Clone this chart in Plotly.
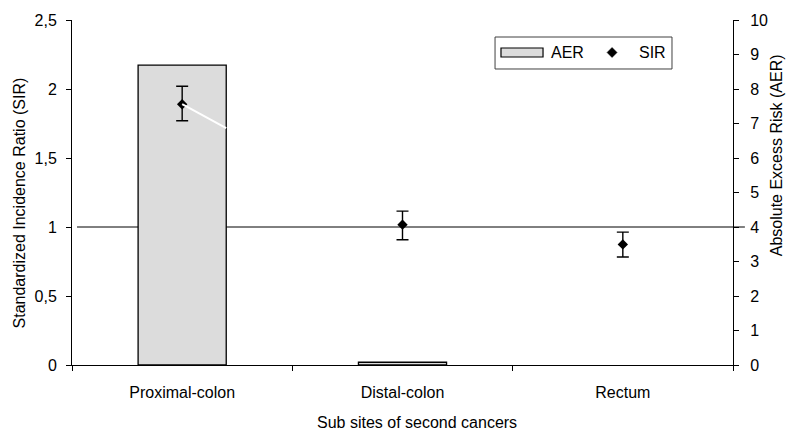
import plotly.graph_objects as go

# Sub sites and their risk estimates
sites = ["Proximal-colon", "Distal-colon", "Rectum"]
aer = [8.69, 0.08, None]           # absolute excess risk (right axis); none shown for rectum
sir = [1.89, 1.017, 0.874]         # standardized incidence ratio (left axis)
sir_upper = [2.02, 1.115, 0.963]   # 95% CI upper bound
sir_lower = [1.77, 0.908, 0.783]   # 95% CI lower bound

sir_ticks = [0, 0.5, 1, 1.5, 2, 2.5]
sir_ticktext = ["0", "0,5", "1", "1,5", "2", "2,5"]
aer_ticks = list(range(0, 11))

FONT = "Liberation Sans, Arial, sans-serif"
FS = 16

err_plus = [u - s for u, s in zip(sir_upper, sir)]
err_minus = [s - l for s, l in zip(sir, sir_lower)]

fig = go.Figure()

# AER bars on the right-hand axis (drawn first, underneath the SIR points)
fig.add_trace(go.Bar(
    x=sites, y=aer, yaxis="y", name="AER",
    width=0.4,
    marker=dict(color="#dcdcdc", line=dict(color="black", width=1.3)),
    showlegend=False,
))

# SIR with confidence intervals on the left-hand axis
fig.add_trace(go.Scatter(
    x=sites, y=sir, yaxis="y2", name="SIR", mode="markers",
    marker=dict(symbol="diamond", size=8, color="black"),
    error_y=dict(type="data", symmetric=False, array=err_plus, arrayminus=err_minus,
                 color="black", thickness=1.4, width=6),
    showlegend=False,
))

# reference line at SIR = 1
fig.add_shape(type="line", xref="paper", yref="y2",
              x0=0.0076, x1=1.018, y0=1, y1=1,
              line=dict(color="black", width=1), layer="below")

# white leader line from the proximal SIR point to the bar edge
fig.add_shape(type="line", xref="x", yref="y2",
              x0=0, x1=0.2, y0=sir[0], y1=1.717,
              line=dict(color="white", width=2))

# legend box
fig.add_shape(type="rect", xref="paper", yref="paper",
              x0=0.640, x1=0.9077, y0=0.858, y1=0.9507,
              line=dict(color="#404040", width=1), fillcolor="white")
fig.add_shape(type="rect", xref="paper", yref="paper",
              x0=0.649, x1=0.7126, y0=0.8928, y1=0.9188,
              line=dict(color="black", width=1.2), fillcolor="#dcdcdc")
dx, dy, cx, cy = 5 / 661, 5 / 345, 0.817, 0.9058
fig.add_shape(type="path", xref="paper", yref="paper",
              path=f"M{cx},{cy + dy} L{cx + dx},{cy} L{cx},{cy - dy} L{cx - dx},{cy} Z",
              fillcolor="black", line=dict(color="black", width=0.5))
fig.add_annotation(text="AER", xref="paper", yref="paper", x=0.7216, y=0.9058,
                   xanchor="left", yanchor="middle", showarrow=False,
                   font=dict(family=FONT, size=FS, color="black"))
fig.add_annotation(text="SIR", xref="paper", yref="paper", x=0.8548, y=0.9058,
                   xanchor="left", yanchor="middle", showarrow=False,
                   font=dict(family=FONT, size=FS, color="black"))

# axis titles
fig.add_annotation(text="Standardized Incidence Ratio (SIR)", xref="paper", yref="paper",
                   x=-0.0787, y=0.471, textangle=-90, showarrow=False,
                   xanchor="center", yanchor="middle",
                   font=dict(family=FONT, size=FS, color="black"))
fig.add_annotation(text="Absolute Excess Risk (AER)", xref="paper", yref="paper",
                   x=1.0661, y=0.607, textangle=-90, showarrow=False,
                   xanchor="center", yanchor="middle",
                   font=dict(family=FONT, size=FS, color="black"))
fig.add_annotation(text="Sub sites of second cancers", xref="paper", yref="paper",
                   x=0.522, y=-0.168, showarrow=False,
                   xanchor="center", yanchor="middle",
                   font=dict(family=FONT, size=FS, color="black"))

fig.update_layout(
    width=792, height=431,
    margin=dict(l=72, r=59, t=20, b=66, autoexpand=False),
    paper_bgcolor="white", plot_bgcolor="white",
    font=dict(family=FONT, size=FS, color="black"),
    showlegend=False,
    xaxis=dict(
        type="category", range=[-0.5, 2.5],
        showline=True, linecolor="black", linewidth=1,
        ticks="outside", ticklen=5, tickcolor="black", tickson="boundaries",
        showgrid=False, zeroline=False, ticklabelstandoff=13,
    ),
    yaxis=dict(
        side="right", range=[0, 10], tickvals=aer_ticks,
        showline=True, linecolor="black", linewidth=1,
        ticks="outside", ticklen=5, tickcolor="black",
        showgrid=False, zeroline=False, ticklabelstandoff=8,
    ),
    yaxis2=dict(
        side="left", overlaying="y", range=[0, 2.5],
        tickvals=sir_ticks, ticktext=sir_ticktext,
        showline=True, linecolor="black", linewidth=1,
        ticks="outside", ticklen=5, tickcolor="black",
        showgrid=False, zeroline=False, ticklabelstandoff=6,
    ),
)

fig.write_html("out.html")
